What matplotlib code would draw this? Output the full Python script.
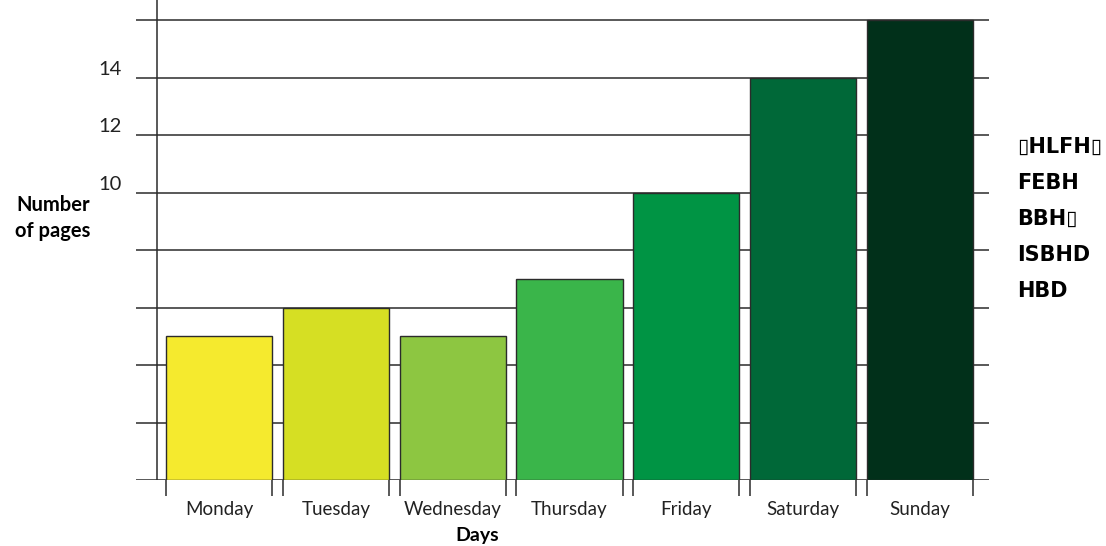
import numpy as np
import matplotlib
matplotlib.use("Agg")
import matplotlib.pyplot as plt

# данные
days = ["Monday", "Tuesday", "Wednesday", "Thursday", "Friday", "Saturday", "Sunday"]
pages = [5, 6, 5, 7, 10, 14, 16]
colors = ["#F5EA2E", "#D6DF23", "#8DC641", "#3AB54A", "#009444", "#006838", "#01301A"]
grid_levels = [0, 2, 4, 6, 8, 10, 12, 14, 16]
ytick_vals = [10, 12, 14]
side_lines = ["\u25afHLFH\u25af", "FEBH", "BBH\u25af", "ISBHD", "HBD"]

plt.rcParams['font.family'] = ['Lato', 'DejaVu Sans']
line_col = "#2b2b2b"

fig = plt.figure(figsize=(11.06, 5.46), dpi=100)
ax = fig.add_axes([136 / 1106, 66 / 546, (989 - 136) / 1106, 480 / 546])

x = np.arange(len(days))
w = 0.91
for lvl in grid_levels:
    ax.axhline(lvl, color=line_col, lw=1.1, zorder=1)
ax.bar(x, pages, width=w, color=colors, edgecolor=line_col, linewidth=1.0, zorder=2)

ax.set_xlim(-0.711, 6.592)
ax.set_ylim(0, 16.7)
ax.axvline(-0.53, color=line_col, lw=1.1, zorder=1)

for s in ax.spines.values():
    s.set_visible(False)

# засечки по краям столбцов
edges = np.sort(np.concatenate([x - w / 2, x + w / 2]))
ax.set_xticks(edges)
ax.set_xticklabels([])
ax.tick_params(axis='x', which='major', length=11.5, width=1.1, color=line_col, direction='out')
ax.set_xticks(x, minor=True)
ax.set_xticklabels(days, minor=True, fontsize=13.5, color="#222222")
ax.tick_params(axis='x', which='minor', length=0, pad=15)

ax.set_yticks(ytick_vals)
ax.set_yticklabels([str(v) for v in ytick_vals], fontsize=14.5, color="#222222")
ax.tick_params(axis='y', length=0, pad=10)
for lab in ax.get_yticklabels():
    lab.set_va('bottom')

fig.text(90 / 1106, 1 - 218 / 546, "Number\nof pages", ha='right', va='center',
         fontsize=14.5, fontweight='bold', linespacing=1.35)
fig.text(477 / 1106, 1 - 536 / 546, "Days", ha='center', va='center',
         fontsize=14, fontweight='bold')

for i, t in enumerate(side_lines):
    fig.text(1017 / 1106, 1 - (147 + 36 * i) / 546, t, ha='left', va='center',
             fontsize=15, fontweight='bold',
             family=['Liberation Sans Narrow', 'DejaVu Sans'])

fig.savefig("out.png", dpi=100)
